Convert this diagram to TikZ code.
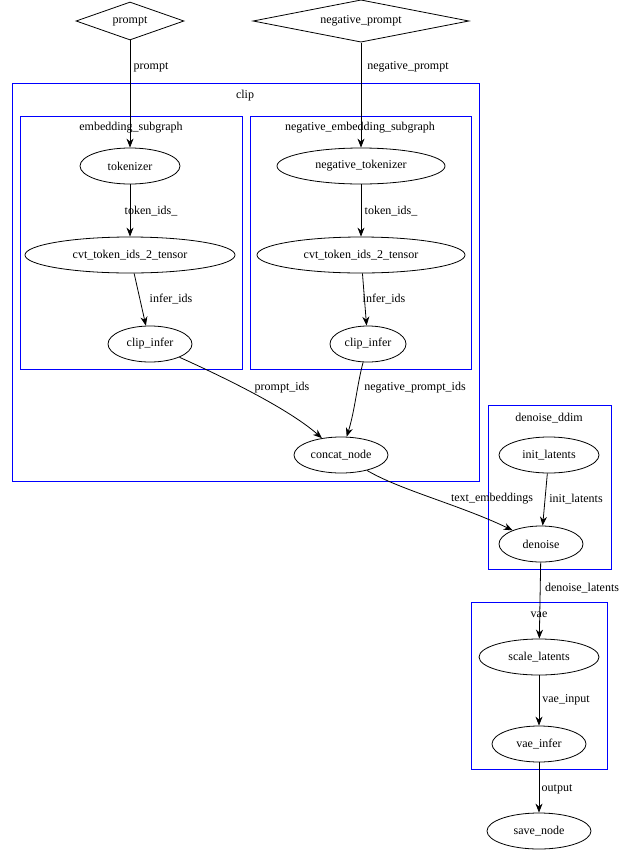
\documentclass[tikz,border=0pt]{standalone}
\usepackage{fontspec}
\setmainfont{Liberation Serif}
\usetikzlibrary{shapes.geometric,arrows.meta}
\begin{document}
\begin{tikzpicture}[x=1pt,y=-1pt,
 every node/.style={font=\fontsize{12}{14}\selectfont},
 el/.style={ellipse,draw,minimum height=36pt,inner sep=0pt},
 dm/.style={diamond,draw,aspect=2.8,inner sep=1pt,minimum height=38pt},
 cl/.style={draw={rgb,255:red,0;green,0;blue,255},line width=0.9pt},
 ar/.style={line width=0.8pt,-{Stealth[length=9pt,width=7pt]}}]
\useasboundingbox (0,0) rectangle (629,855);
\draw[cl] (12,83) rectangle (479,481);
\node at (245,96) {clip};
\draw[cl] (20,116) rectangle (242,369);
\node at (131,128) {embedding\_subgraph};
\draw[cl] (250,116) rectangle (471,369);
\node at (360,128) {negative\_embedding\_subgraph};
\draw[cl] (488,405) rectangle (611,569);
\node at (549,418) {denoise\_ddim};
\draw[cl] (471,602) rectangle (607,769);
\node at (539,615) {vae};

\tikzset{every path/.append style={line width=0.8pt}}
\node[dm,minimum width=108pt] (p) at (130,21) {prompt};
\node[dm,minimum width=216pt] (np) at (361,21) {negative\_prompt};
\node[el,minimum width=100pt] (tok) at (130,166) {tokenizer};
\node[el,minimum width=210pt] (cvt) at (130,255) {cvt\_token\_ids\_2\_tensor};
\node[el,minimum width=84pt] (ci) at (150,344) {clip\_infer};
\node[el,minimum width=168pt] (ntok) at (361,166) {negative\_tokenizer};
\node[el,minimum width=208pt] (ncvt) at (361,255) {cvt\_token\_ids\_2\_tensor};
\node[el,minimum width=76pt] (nci) at (368,344) {clip\_infer};
\node[el,minimum width=94pt] (cc) at (341,455) {concat\_node};
\node[el,minimum width=100pt] (il) at (549,455) {init\_latents};
\node[el,minimum width=84pt] (dn) at (541,544) {denoise};
\node[el,minimum width=120pt] (sl) at (539,657) {scale\_latents};
\node[el,minimum width=94pt] (vi) at (539,744) {vae\_infer};
\node[el,minimum width=104pt] (sv) at (539,831) {save\_node};

\draw[ar] (p) -- (tok);
\node at (151,67) {prompt};
\draw[ar] (np) -- (ntok);
\node at (408,67) {negative\_prompt};
\draw[ar] (tok) -- (cvt);
\node at (151,211) {token\_ids\_};
\draw[ar] (ntok) -- (ncvt);
\node at (391,211) {token\_ids\_};
\draw[ar] (cvt) -- (ci);
\node at (171,299) {infer\_ids};
\draw[ar] (ncvt) -- (nci);
\node at (384,299) {infer\_ids};
\draw[ar] (ci) .. controls (230,380) and (290,410) .. (cc);
\node at (282,388) {prompt\_ids};
\draw[ar] (nci) .. controls (357,385) and (355,410) .. (cc);
\node at (415,388) {negative\_prompt\_ids};
\draw[ar] (cc) .. controls (400,490) and (460,505) .. (dn);
\node at (492,499) {text\_embeddings};
\draw[ar] (il) -- (dn);
\node at (576,499) {init\_latents};
\draw[ar] (dn) -- (sl);
\node at (582,588) {denoise\_latents};
\draw[ar] (sl) -- (vi);
\node at (566,700) {vae\_input};
\draw[ar] (vi) -- (sv);
\node at (557,789) {output};
\end{tikzpicture}
\end{document}
